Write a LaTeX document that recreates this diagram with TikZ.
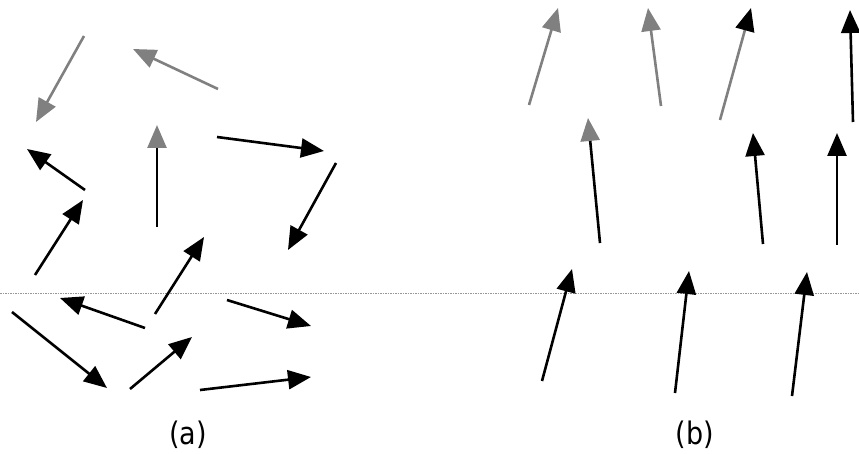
\documentclass[tikz,border=0pt]{standalone}
\usepackage{fontspec}
\setmainfont{DejaVu Sans}
\usetikzlibrary{arrows.meta}
\definecolor{vgray}{RGB}{128,128,128}
\definecolor{lgray}{RGB}{150,150,150}
\tikzset{
  vec/.style={line width=2.6pt, draw=black, -{Triangle[length=23pt,width=19pt]}},
  gvec/.style={line width=2.6pt, draw=vgray, -{Triangle[length=23pt,width=19pt]}},
  gvecbh/.style={line width=2.6pt, draw=vgray, -{Triangle[length=23pt,width=19pt,color=black]}},
  vecgh/.style={line width=2.6pt, draw=black, -{Triangle[length=23pt,width=19pt,color=vgray]}},
  lab/.style={font=\fontsize{27}{30}\selectfont}
}
\begin{document}
\begin{tikzpicture}[x=1pt,y=-1pt]
\useasboundingbox (0,0) rectangle (859,454);
% dotted baseline
\coordinate (d0) at (0,293);
\coordinate (d1) at (859,293);
\draw[lgray, line width=0.9pt, dash pattern=on 1.5pt off 1pt] (d0) -- (d1);
% ---------- panel (a) ----------
\coordinate (a1s) at (84,36);   \coordinate (a1e) at (36,122);
\coordinate (a2s) at (218,89);  \coordinate (a2e) at (133,49);
\coordinate (a3s) at (157,227); \coordinate (a3e) at (157,125);
\coordinate (a4s) at (217,137); \coordinate (a4e) at (324,151);
\coordinate (a5s) at (336,163); \coordinate (a5e) at (288,250);
\coordinate (a6s) at (85,190);  \coordinate (a6e) at (27,149);
\coordinate (a7s) at (35,275);  \coordinate (a7e) at (83,200);
\coordinate (a8s) at (155,314); \coordinate (a8e) at (204,237);
\coordinate (a9s) at (145,328); \coordinate (a9e) at (60,298);
\coordinate (a10s) at (227,300); \coordinate (a10e) at (311,326);
\coordinate (a11s) at (12,312); \coordinate (a11e) at (107,388);
\coordinate (a12s) at (130,389); \coordinate (a12e) at (192,337);
\coordinate (a13s) at (200,390); \coordinate (a13e) at (311,377);
\draw[gvec] (a1s) -- (a1e);
\draw[gvec] (a2s) -- (a2e);
\draw[vecgh] (a3s) -- (a3e);
\draw[vec] (a4s) -- (a4e);
\draw[vec] (a5s) -- (a5e);
\draw[vec] (a6s) -- (a6e);
\draw[vec] (a7s) -- (a7e);
\draw[vec] (a8s) -- (a8e);
\draw[vec] (a9s) -- (a9e);
\draw[vec] (a10s) -- (a10e);
\draw[vec] (a11s) -- (a11e);
\draw[vec] (a12s) -- (a12e);
\draw[vec] (a13s) -- (a13e);
\node[lab] (la) at (188,435) {\scalebox{1}[1.15]{(a)}};
% ---------- panel (b) ----------
\coordinate (b1s) at (529,105); \coordinate (b1e) at (558,8);
\coordinate (b2s) at (661,106); \coordinate (b2e) at (648,8);
\coordinate (b3s) at (720,120); \coordinate (b3e) at (751,8);
\coordinate (b4s) at (853,122); \coordinate (b4e) at (850,10);
\coordinate (b5s) at (600,243); \coordinate (b5e) at (588,118);
\coordinate (b6s) at (763,244); \coordinate (b6e) at (753,133);
\coordinate (b7s) at (837,245); \coordinate (b7e) at (837,133);
\coordinate (b8s) at (542,381); \coordinate (b8e) at (572,269);
\coordinate (b9s) at (675,393); \coordinate (b9e) at (689,271);
\coordinate (b10s) at (792,396); \coordinate (b10e) at (807,272);
\draw[gvec] (b1s) -- (b1e);
\draw[gvec] (b2s) -- (b2e);
\draw[gvecbh] (b3s) -- (b3e);
\draw[vec] (b4s) -- (b4e);
\draw[vecgh] (b5s) -- (b5e);
\draw[vec] (b6s) -- (b6e);
\draw[vec] (b7s) -- (b7e);
\draw[vec] (b8s) -- (b8e);
\draw[vec] (b9s) -- (b9e);
\draw[vec] (b10s) -- (b10e);
\node[lab] (lb) at (695,435) {\scalebox{1}[1.15]{(b)}};
\end{tikzpicture}
\end{document}
